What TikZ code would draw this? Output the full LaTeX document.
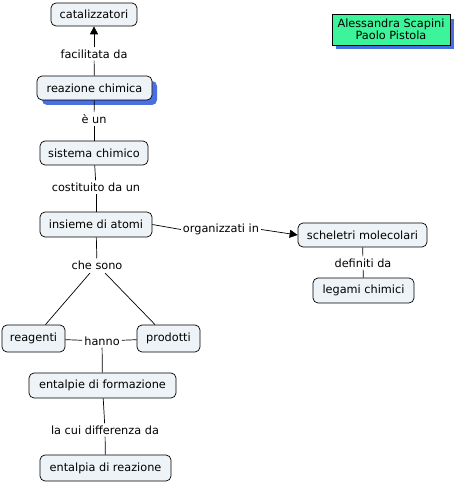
\documentclass[tikz,border=0pt]{standalone}
\usepackage{fontspec}
\setmainfont{DejaVu Sans}
\usetikzlibrary{arrows.meta}
\definecolor{nodefill}{HTML}{EDF3F6}
\definecolor{greenfill}{HTML}{3CF59A}
\definecolor{shadowblue}{HTML}{4A6FE0}
\begin{document}
\begin{tikzpicture}[x=1pt,y=-1pt,
  concept/.style={draw=black, fill=nodefill, rounded corners=5pt, line width=0.7pt,
    font=\fontsize{11.3}{13}\selectfont, inner sep=0pt},
  linklabel/.style={font=\fontsize{11.3}{13}\selectfont, inner sep=2pt, fill=white},
  conn/.style={draw=black, line width=0.7pt},
  arr/.style={conn, -{Triangle[length=8pt,width=8pt]}}
]
\useasboundingbox (0,0) rectangle (455,484);
% concept nodes
\node[concept, minimum width=86pt, minimum height=23pt] (cat) at (94,14.5) {catalizzatori};
\fill[shadowblue, rounded corners=5pt] (42,81) rectangle (157,105);
\node[concept, minimum width=115pt, minimum height=24pt] (rea) at (94.5,88) {reazione chimica};
\node[concept, minimum width=108pt, minimum height=24pt] (sis) at (94,153) {sistema chimico};
\node[concept, minimum width=112pt, minimum height=25pt] (ins) at (96,224.5) {insieme di atomi};
\node[concept, minimum width=129pt, minimum height=24pt] (sch) at (362.5,235) {scheletri molecolari};
\node[concept, minimum width=101pt, minimum height=25pt] (leg) at (363.5,290.5) {legami chimici};
\node[concept, minimum width=63pt, minimum height=27pt] (reag) at (33.5,338.5) {reagenti};
\node[concept, minimum width=63pt, minimum height=27pt] (prod) at (168.5,338.5) {prodotti};
\node[concept, minimum width=147pt, minimum height=25pt] (entf) at (102.5,385.5) {entalpie di formazione};
\node[concept, minimum width=131pt, minimum height=26pt] (entr) at (105.5,468) {entalpia di reazione};
% authors
\fill[shadowblue] (336,19) rectangle (454,49);
\node[draw=black, fill=greenfill, line width=0.7pt, minimum width=118pt, minimum height=31pt,
  inner sep=0pt, align=center, font=\fontsize{11.3}{12.5}\selectfont] (auth) at (391,29.5)
  {Alessandra Scapini\\Paolo Pistola};
% link labels
\node[linklabel] (l1) at (94,54) {facilitata da};
\node[linklabel] (l2) at (94,119) {è un};
\node[linklabel] (l3) at (96,187) {costituito da un};
\node[linklabel] (l4) at (221,229.5) {organizzati in};
\node[linklabel] (l5) at (363,263) {definiti da};
\node[linklabel] (l6) at (97,265) {che sono};
\node[linklabel] (l7) at (102,341) {hanno};
\node[linklabel] (l8) at (105,430) {la cui differenza da};
\coordinate (c6a) at (90,273);
\coordinate (c6b) at (105,273);
% connectors
\draw[conn] (rea) -- (l1);
\draw[arr] (l1) -- (cat);
\draw[conn] (sis) -- (l2);
\draw[conn] (l2) -- (rea);
\draw[conn] (ins) -- (l3);
\draw[conn] (l3) -- (sis);
\draw[conn] (ins.east) -- (l4.west);
\draw[arr] (l4.east) -- (sch.west);
\draw[conn] (sch) -- (l5);
\draw[conn] (l5) -- (leg);
\draw[conn] (ins) -- (l6);
\draw[conn] (c6a) -- (reag);
\draw[conn] (c6b) -- (prod);
\draw[conn] (reag) -- (l7);
\draw[conn] (prod) -- (l7);
\draw[conn] (l7) -- (entf);
\draw[conn] (entf) -- (l8);
\draw[conn] (l8) -- (entr);
\end{tikzpicture}
\end{document}
